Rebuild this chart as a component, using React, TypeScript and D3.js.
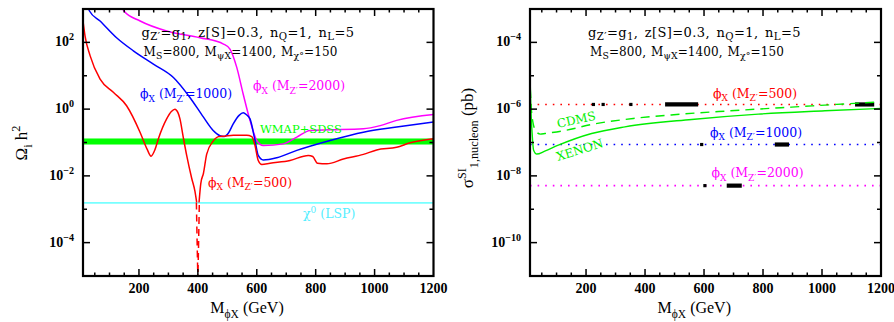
import React from 'react';
import * as d3 from 'd3';

// ---- data ----
const massTicks = [200, 400, 600, 800, 1000, 1200];
const omegaExps = [-4, -2, 0, 2];
const sigmaExps = [-10, -8, -6, -4];

// relic density, M_Z' = 500 (solid, split around the 400 GeV pole)
const red500Left: [number, number][] = [
  [10, 437], [17, 155], [34, 40], [68, 7.9], [113, 3.2], [158, 1.26], [204, 0.2],
  [228, 0.062], [241, 0.039], [254, 0.06], [266, 0.13], [294, 0.51], [310, 0.85],
  [322, 1.0], [332, 0.8], [339, 0.52], [350, 0.15], [362, 0.041], [379, 0.0085],
  [390, 0.0035], [396, 0.0016],
];
const red500Right: [number, number][] = [
  [404, 0.0016], [410, 0.006], [419, 0.012], [430, 0.045], [452, 0.11], [470, 0.15],
  [490, 0.155], [520, 0.165], [566, 0.165], [583, 0.15], [594, 0.081], [605, 0.029],
  [617, 0.022], [645, 0.024], [713, 0.029], [775, 0.041], [790, 0.038], [806, 0.024],
  [838, 0.023], [894, 0.032], [962, 0.044], [1007, 0.06], [1075, 0.072], [1121, 0.098],
  [1200, 0.129],
];
const red500Pole: [number, number][] = [
  [395, 0.0016], [397.5, 0.0001], [400, 0.000008], [402.5, 0.0001], [405, 0.0016],
];
const blue1000: [number, number][] = [
  [25, 1200], [32, 870], [68, 437], [124, 138], [181, 56], [249, 22.4], [317, 8.9],
  [373, 2.24], [419, 0.575], [452, 0.23], [475, 0.16], [489, 0.151], [505, 0.2],
  [520, 0.36], [540, 0.65], [554, 0.78], [565, 0.68], [577, 0.51], [594, 0.115],
  [605, 0.041], [622, 0.03], [668, 0.035], [736, 0.058], [849, 0.115], [962, 0.204],
  [1075, 0.29], [1200, 0.41],
];
const magenta2000: [number, number][] = [
  [140, 1300], [149, 870], [204, 437], [294, 219], [407, 138], [487, 89], [509, 63],
  [532, 17.8], [554, 2.8], [577, 0.46], [600, 0.115], [622, 0.081], [690, 0.091],
  [736, 0.145], [781, 0.23], [849, 0.24], [962, 0.257], [1019, 0.32], [1075, 0.46],
  [1200, 0.69],
];
const wmapBand = [0.087, 0.132];
const lspOmega = 0.00155;

// direct detection
const sigma500 = 1.38e-6;
const sigma1000 = 8.7e-8;
const sigma2000 = 5.1e-9;
const dots500 = [225, 258, 352];
const segs500: [number, number][] = [[468, 580], [1112, 1177]];
const dots1000 = [592];
const segs1000: [number, number][] = [[840, 888]];
const dots2000 = [603];
const segs2000: [number, number][] = [[677, 728]];
const cdms: [number, number][] = [
  [11, 4e-6], [14, 1.2e-6], [20, 4e-7], [30, 2.2e-7], [45, 1.78e-7], [61, 1.86e-7],
  [134, 2.34e-7], [219, 3.47e-7], [360, 5.25e-7], [507, 6.9e-7], [671, 8.7e-7],
  [897, 1.15e-6], [1200, 1.66e-6],
];
const xenon: [number, number][] = [
  [10, 1.05e-5], [13, 1e-6], [17, 2e-7], [22, 6e-8], [33, 4.5e-8], [60, 5.5e-8],
  [106, 8.3e-8], [219, 1.86e-7], [332, 2.95e-7], [558, 4.9e-7], [784, 7.1e-7],
  [1010, 8.9e-7], [1200, 1.05e-6],
];

const SERIF = '"Liberation Serif", "DejaVu Serif", serif';
const WIDE = '"DejaVu Serif", "Liberation Serif", serif';
const RED = '#ff0000';
const BLUE = '#0000ff';
const MAG = '#ff00ff';
const GREEN = '#00ee00';
const CYAN = '#55eeff';

type Part = [string, number?];

// text with sub (-1) / superscript (1) pieces
const Rich = ({ parts, fs, sub = 0.72 }: { parts: Part[]; fs: number; sub?: number }) => {
  let cur = 0;
  return (
    <>
      {parts.map(([t, lvl = 0], i) => {
        const target = lvl === 1 ? -fs * 0.42 : lvl === -1 ? fs * 0.3 : 0;
        const dy = target - cur;
        cur = target;
        return (
          <tspan key={i} dy={dy} fontSize={lvl ? fs * sub : fs}>
            {t}
          </tspan>
        );
      })}
    </>
  );
};

const phiLabel = (mz: string): Part[] => [['ϕ'], ['X', -1], [' (M'], ['Z′', -1], ['=' + mz + ')']];

interface Frame {
  left: number;
  right: number;
  top: number;
  bottom: number;
}

const Axes = ({ f, x, y, exps, clip }: {
  f: Frame;
  x: d3.ScaleLinear<number, number>;
  y: d3.ScaleLogarithmic<number, number>;
  exps: number[];
  clip: string;
}) => {
  const [e0, e1] = y.domain().map(v => Math.round(Math.log10(v)));
  const decades = d3.range(e0, e1 + 1);
  const minorX = d3.range(50, 1200, 50);
  return (
    <g>
      <defs>
        <clipPath id={clip}>
          <rect x={f.left} y={f.top} width={f.right - f.left} height={f.bottom - f.top} />
        </clipPath>
      </defs>
      {minorX.map(m => {
        const len = m % 200 === 0 ? 7 : 3.5;
        return (
          <g key={m} stroke="#000" strokeWidth={1.5}>
            <line x1={x(m)} x2={x(m)} y1={f.bottom} y2={f.bottom - len} />
            <line x1={x(m)} x2={x(m)} y1={f.top} y2={f.top + len} />
          </g>
        );
      })}
      {decades.map(e => {
        const len = exps.includes(e) ? 7 : 4;
        const yy = y(Math.pow(10, e));
        return (
          <g key={e} stroke="#000" strokeWidth={1.5}>
            <line x1={f.left} x2={f.left + len} y1={yy} y2={yy} />
            <line x1={f.right} x2={f.right - len} y1={yy} y2={yy} />
          </g>
        );
      })}
      <rect x={f.left} y={f.top} width={f.right - f.left} height={f.bottom - f.top}
        fill="none" stroke="#000" strokeWidth={2.2} />
      {massTicks.map(m => (
        <text key={m} x={x(m)} y={f.bottom + 17} textAnchor="middle" fontFamily={SERIF}
          fontWeight="bold" fontSize={14}>{m}</text>
      ))}
      {exps.map(e => (
        <text key={e} x={f.left - 9} y={y(Math.pow(10, e)) + 4} textAnchor="end"
          fontFamily={SERIF} fontWeight="bold" fontSize={14}>
          <Rich fs={14} parts={[['10'], [e < 0 ? '−' + Math.abs(e) : String(e), 1]]} />
        </text>
      ))}
      <text x={(f.left + f.right) / 2 - 48} y={f.bottom + 37} fontFamily={SERIF} fontSize={16}>
        <Rich fs={16} parts={[['M'], ['ϕ', -1], ['X', -1], ['  (GeV)']]} />
      </text>
    </g>
  );
};

const Header = ({ x0, y0 }: { x0: number; y0: number }) => (
  <g fontFamily={WIDE} fill="#000">
    <text x={x0} y={y0} letterSpacing={0.4} wordSpacing={2}>
      <Rich fs={13} sub={0.78} parts={[['g'], ['Z′', -1], ['=g'], ['1', -1], [', z[S]=0.3, n'], ['Q', -1], ['=1, n'], ['L', -1], ['=5']]} />
    </text>
    <text x={x0 + 2} y={y0 + 19} letterSpacing={0.1} wordSpacing={1}>
      <Rich fs={12} sub={0.78} parts={[['M'], ['S', -1], ['=800, M'], ['ψX', -1], ['=1400, M'], ['χ°', -1], ['=150']]} />
    </text>
  </g>
);

export default function App() {
  const L: Frame = { left: 83, right: 433.5, top: 9, bottom: 276 };
  const R: Frame = { left: 530, right: 881, top: 9, bottom: 276 };

  const xL = d3.scaleLinear().domain([10, 1200]).range([L.left, L.right]);
  const yL = d3.scaleLog().domain([1e-5, 1e3]).range([L.bottom, L.top]);
  const xR = d3.scaleLinear().domain([10, 1200]).range([R.left, R.right]);
  const yR = d3.scaleLog().domain([1e-11, 1e-3]).range([R.bottom, R.top]);

  const lineL = d3.line<[number, number]>().x(d => xL(d[0])).y(d => yL(d[1])).curve(d3.curveMonotoneX);
  const lineR = d3.line<[number, number]>().x(d => xR(d[0])).y(d => yR(d[1])).curve(d3.curveMonotoneX);

  const flat = (val: number, color: string, dots: number[], segs: [number, number][]) => (
    <g>
      <line x1={R.left} x2={R.right} y1={yR(val)} y2={yR(val)} stroke={color}
        strokeWidth={1.6} strokeDasharray="1.6,6" />
      {dots.map(m => <rect key={m} x={xR(m) - 1.6} y={yR(val) - 1.6} width={3.2} height={3.2} fill="#000" />)}
      {segs.map(([a, b]) => (
        <line key={a} x1={xR(a)} x2={xR(b)} y1={yR(val)} y2={yR(val)} stroke="#000" strokeWidth={4.2} />
      ))}
    </g>
  );

  return (
    <svg width={894} height={322} style={{ position: 'fixed', left: 0, top: 0, background: '#fff' }}>
      {/* ---- left: relic density ---- */}
      <g clipPath="url(#clipL)">
        <rect x={L.left} width={L.right - L.left} y={yL(wmapBand[1])}
          height={yL(wmapBand[0]) - yL(wmapBand[1])} fill="#00ff00" />
        <line x1={L.left} x2={L.right} y1={yL(lspOmega)} y2={yL(lspOmega)} stroke="#77ffff" strokeWidth={1.6} />
        <path d={lineL(magenta2000) ?? ''} fill="none" stroke={MAG} strokeWidth={1.5} />
        <path d={lineL(blue1000) ?? ''} fill="none" stroke={BLUE} strokeWidth={1.5} />
        <path d={lineL(red500Left) ?? ''} fill="none" stroke={RED} strokeWidth={1.5} />
        <path d={lineL(red500Right) ?? ''} fill="none" stroke={RED} strokeWidth={1.5} />
        <path d={d3.line<[number, number]>().x(d => xL(d[0])).y(d => yL(d[1]))(red500Pole) ?? ''}
          fill="none" stroke={RED} strokeWidth={1.5} strokeDasharray="7,5" />
      </g>
      <Axes f={L} x={xL} y={yL} exps={omegaExps} clip="clipL" />
      <Header x0={141.5} y0={36.5} />
      <g fontFamily={WIDE} fontSize={12.5}>
        <text x={140} y={98} fill={BLUE}><Rich fs={12.5} parts={phiLabel('1000')} /></text>
        <text x={253} y={90} fill={MAG}><Rich fs={12.5} parts={phiLabel('2000')} /></text>
        <text x={260} y={132.5} fill="#00ff00" fontSize={11.5}>WMAP+SDSS</text>
        <text x={208} y={186.5} fill={RED}><Rich fs={12.5} parts={phiLabel('500')} /></text>
        <text x={303} y={218} fill={CYAN}><Rich fs={12.5} parts={[['χ'], ['0', 1], [' (LSP)']]} /></text>
      </g>
      <text transform="translate(27,143) rotate(-90)" textAnchor="middle" fontFamily={SERIF} fontSize={17}>
        <Rich fs={17} parts={[['Ω'], ['i', -1], [' h'], ['2', 1]]} />
      </text>

      {/* ---- right: direct detection ---- */}
      <g clipPath="url(#clipR)">
        {flat(sigma500, RED, dots500, segs500)}
        {flat(sigma1000, BLUE, dots1000, segs1000)}
        {flat(sigma2000, MAG, dots2000, segs2000)}
        <path d={lineR(cdms) ?? ''} fill="none" stroke={GREEN} strokeWidth={1.4} strokeDasharray="9,6" />
        <path d={lineR(xenon) ?? ''} fill="none" stroke={GREEN} strokeWidth={1.4} />
      </g>
      <Axes f={R} x={xR} y={yR} exps={sigmaExps} clip="clipR" />
      <Header x0={588} y0={36.5} />
      <g fontFamily={WIDE} fontSize={12.5}>
        <text x={713} y={97.5} fill={RED}><Rich fs={12.5} parts={phiLabel('500')} /></text>
        <text x={710} y={136.5} fill={BLUE}><Rich fs={12.5} parts={phiLabel('1000')} /></text>
        <text x={711.5} y={177} fill={MAG}><Rich fs={12.5} parts={phiLabel('2000')} /></text>
        <text transform="translate(558,128) rotate(-12.5)" fill={GREEN} fontSize={12}>CDMS</text>
        <text transform="translate(558,161) rotate(-17.5)" fill={GREEN} fontSize={12}>XENON</text>
      </g>
      <text transform="translate(473,138) rotate(-90)" textAnchor="middle" fontFamily={SERIF} fontSize={17}>
        <Rich fs={17} parts={[['σ'], ['SI', 1], ['1,nucleon', -1], ['  (pb)']]} />
      </text>
    </svg>
  );
}
